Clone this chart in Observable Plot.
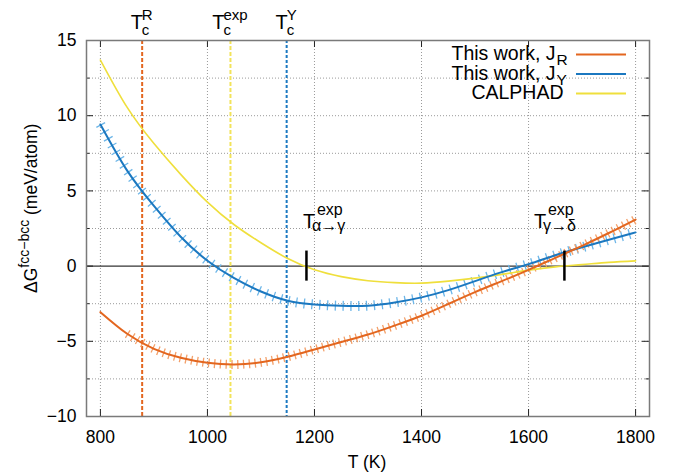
<!DOCTYPE html>
<html><head><meta charset="utf-8">
<script src="https://cdn.jsdelivr.net/npm/d3@7"></script>
<script src="https://cdn.jsdelivr.net/npm/@observablehq/plot@0.6"></script>
<style>body{margin:0;background:#fff} svg{display:block}</style>
</head><body><div id="chart"></div>
<script>
// ---- data ----
const temperatures = [800,850,900,950,1000,1050,1100,1150,1200,1250,1300,1350,1400,1450,1500,1550,1600,1650,1700,1750,1800];
const dgJR      = [-3.06,-4.5,-5.5,-6.1,-6.43,-6.54,-6.4,-6.03,-5.54,-5.05,-4.55,-3.95,-3.3,-2.52,-1.73,-1.0,-0.25,0.55,1.35,2.2,3.1];
const dgJY      = [9.42,6.35,4.0,1.95,0.36,-0.8,-1.69,-2.3,-2.55,-2.64,-2.63,-2.42,-2.08,-1.6,-1.0,-0.4,0.13,0.72,1.25,1.75,2.24];
const dgCalphad = [13.7,10.55,8.15,6.1,4.25,2.75,1.55,0.5,-0.25,-0.7,-0.97,-1.1,-1.13,-1.0,-0.8,-0.55,-0.27,-0.05,0.1,0.25,0.35];
const xTicks = [800,1000,1200,1400,1600,1800];
const yTicks = [-10,-5,0,5,10,15];
const yMinorTicks = [-7.5,-2.5,2.5,7.5,12.5];
const curieNames = ["R","exp","Y"];
const curieTemps = [878,1043,1148];
const transitionNames = ["α→γ","γ→δ"];
const transitionTemps = [1185,1667];
const transitionSpan = [-1,1];
const legendLabels = [["This work, J","R"],["This work, J","Y"],["CALPHAD",""]];

// ---- styling ----
const C_OR = "#e3661f", C_BL = "#1b78c0", C_YE = "#efdf3c";
const H_OR = "#f3a06a", H_BL = "#6db6e8";

const rows = (vals) => temperatures.map((T,i)=>({T, v: vals[i]}));
const jr = rows(dgJR), jy = rows(dgJY), cal = rows(dgCalphad);
const W = 675, H = 472, mT = 40, mR = 26, mB = 56, mL = 86;
const fw = W - mL - mR, fh = H - mT - mB;
const curies = curieTemps.map((T,i)=>({T, name: curieNames[i]}));
const trans = transitionTemps.map((T,i)=>({T, name: transitionNames[i]}));

const svg = Plot.plot({
  width: W, height: H,
  marginTop: mT, marginRight: mR, marginBottom: mB, marginLeft: mL,
  style: {fontFamily: "'Liberation Sans', Arial, sans-serif", fontSize: "17.5px", color: "#000", background: "#fff"},
  x: {domain: [774, 1826], ticks: xTicks, tickSize: 0, tickPadding: 14, tickFormat: d3.format("d"), label: null},
  y: {domain: [-10, 15], ticks: yTicks, tickSize: 0, tickPadding: 10, tickFormat: d3.format("d"), label: null},
  marks: [
    // grid
    Plot.ruleX(xTicks, {stroke: "#9a9a9a", strokeDasharray: "1,2", strokeWidth: 1}),
    Plot.ruleY(yTicks.concat(yMinorTicks).filter(v => v > -10 && v < 15 && v !== 0), {stroke: "#9a9a9a", strokeDasharray: "1,2", strokeWidth: 1}),
    Plot.ruleY([0], {stroke: "#000", strokeWidth: 1}),
    // Curie temperatures
    Plot.ruleX(curies.filter(d => d.name === "R"), {x: "T", stroke: C_OR, strokeWidth: 2, strokeDasharray: "4,2"}),
    Plot.ruleX(curies.filter(d => d.name === "exp"), {x: "T", stroke: "#f2e35a", strokeWidth: 2, strokeDasharray: "4,2"}),
    Plot.ruleX(curies.filter(d => d.name === "Y"), {x: "T", stroke: C_BL, strokeWidth: 2, strokeDasharray: "3,2"}),
    // hatched uncertainty
    Plot.line(jy, {x: "T", y: "v", stroke: H_BL, strokeWidth: 10, strokeDasharray: "1.3,6.5", strokeLinecap: "butt", strokeLinejoin: "miter", curve: "natural"}),
    Plot.line(jr.filter(d => d.T >= 850), {x: "T", y: "v", stroke: H_OR, strokeWidth: 9, strokeDasharray: "1.3,4.5", strokeLinecap: "butt", strokeLinejoin: "miter", curve: "natural"}),
    // curves
    Plot.line(cal, {x: "T", y: "v", stroke: C_YE, strokeWidth: 1.6, curve: "natural"}),
    Plot.line(jy, {x: "T", y: "v", stroke: C_BL, strokeWidth: 2, curve: "natural"}),
    Plot.line(jr, {x: "T", y: "v", stroke: C_OR, strokeWidth: 2, curve: "natural"}),
    // transition markers
    Plot.ruleX(trans, {x: "T", y1: transitionSpan[0], y2: transitionSpan[1], stroke: "#000", strokeWidth: 2.5}),
    // inward ticks
    Plot.ruleX(xTicks, {insetTop: fh - 7, stroke: "#222"}),
    Plot.ruleX(xTicks, {insetBottom: fh - 7, stroke: "#222"}),
    Plot.ruleY(yTicks, {insetRight: fw - 7, stroke: "#222"}),
    Plot.ruleY(yTicks, {insetLeft: fw - 7, stroke: "#222"}),
    Plot.ruleY(yMinorTicks, {insetRight: fw - 3.5, stroke: "#222"}),
    Plot.ruleY(yMinorTicks, {insetLeft: fw - 3.5, stroke: "#222"}),
    Plot.frame({stroke: "#7a7a7a", strokeWidth: 1.5})
  ]
});
document.getElementById("chart").appendChild(svg);

const sx = svg.scale("x"), sy = svg.scale("y");
const root = d3.select(svg).append("g").attr("font-family", "'Liberation Sans', Arial, sans-serif").attr("fill", "#000");
function txt(x, y, s, size, anchor) {
  return root.append("text").attr("x", x).attr("y", y).attr("font-size", size).attr("text-anchor", anchor || "start").text(s);
}
// Curie labels centred over the dashed lines
curies.forEach(d => {
  const cx = sx.apply(d.T);
  const tEl = txt(0, 29, "T", 20);
  const subEl = txt(0, 34.5, "c", 15);
  const supEl = txt(0, 19.5, d.name, 15);
  const wT = tEl.node().getComputedTextLength();
  const wS = Math.max(subEl.node().getComputedTextLength(), supEl.node().getComputedTextLength());
  const left = cx - (wT - 1 + wS) / 2;
  tEl.attr("x", left); subEl.attr("x", left + wT - 1); supEl.attr("x", left + wT - 1);
});
// transition labels
const transDx = [-3, -30];
trans.forEach((d, i) => {
  const left = sx.apply(d.T) + transDx[i];
  txt(left, 227.5, "T", 20);
  txt(left + 14, 215, "exp", 16);
  txt(left + 9, 231, d.name, 16);
});
// legend
const legY = [60, 79.5, 99], legC = [C_OR, C_BL, C_YE];
legendLabels.forEach((l, i) => {
  if (l[1]) { txt(555.5, legY[i], l[0], 19.5, "end"); txt(556.5, legY[i] + 5, l[1], 15.5); }
  else txt(563.5, legY[i], l[0], 19.5, "end");
  root.append("line").attr("x1", 576).attr("x2", 626).attr("y1", legY[i] - 5.5).attr("y2", legY[i] - 5.5)
    .attr("stroke", legC[i]).attr("stroke-width", 2);
});
// axis labels
txt(367, 468, "T (K)", 17.5, "middle");
const yl = root.append("text").attr("transform", "translate(37,293) rotate(-90)").attr("font-size", 17.5).attr("text-anchor", "start");
yl.append("tspan").text("ΔG");
yl.append("tspan").attr("dy", -8).attr("font-size", 14).text("fcc−bcc");
yl.append("tspan").attr("dy", 8).text(" (meV/atom)");
</script></body></html>
